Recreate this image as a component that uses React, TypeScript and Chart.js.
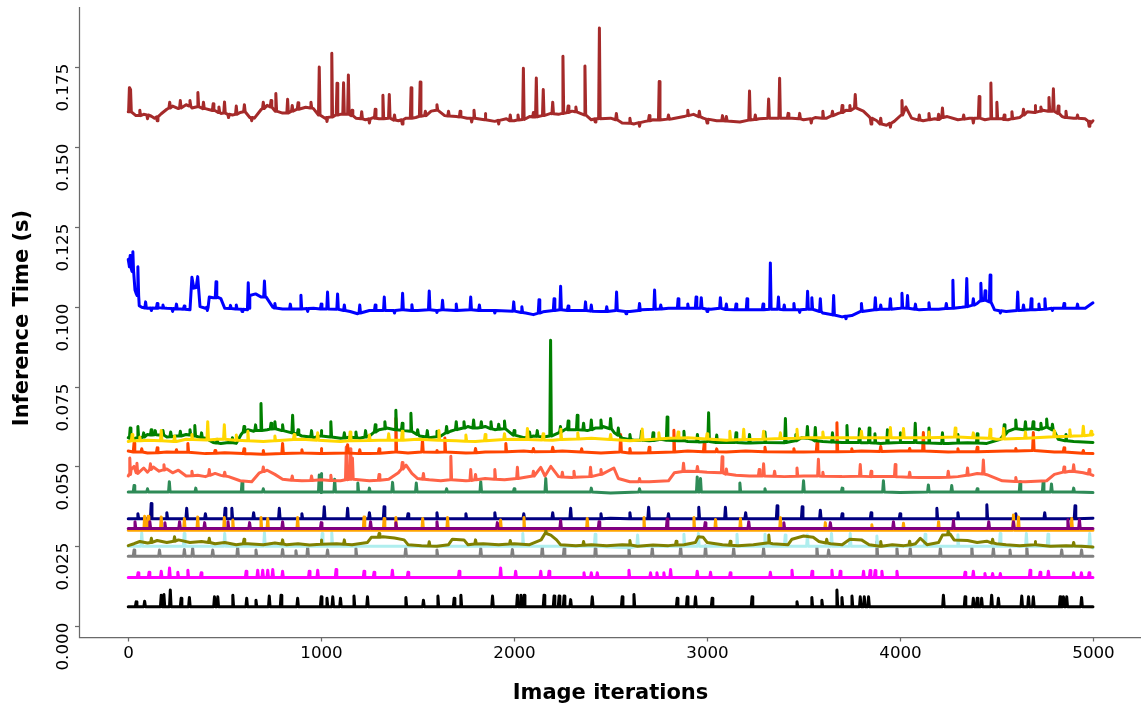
import React, { useEffect, useRef } from "react";
import { Chart, registerables } from "chart.js";

Chart.register(...registerables);

// ---------- axis content ----------
const xTicks = [0, 1000, 2000, 3000, 4000, 5000];
const xTickLabels = ["0", "1000", "2000", "3000", "4000", "5000"];
const yTicks = [0, 0.025, 0.05, 0.075, 0.1, 0.125, 0.15, 0.175];
const yTickLabels = ["0.000", "0.025", "0.050", "0.075", "0.100", "0.125", "0.150", "0.175"];
const xTitle = "Image iterations";
const yTitle = "Inference Time (s)";

// ---------- series: baseline breakpoints [iteration, seconds] and peaks/dips [iteration, value, foot] ----------
const brownBase: [number, number][] = [[0,0.1610],[40,0.1598],[80,0.1602],[120,0.1596],[136,0.1590],[171,0.1604],[200,0.1618],[230,0.1628],[260,0.1620],[300,0.1632],[330,0.1622],[400,0.1620],[447,0.1615],[480,0.1605],[540,0.1600],[580,0.1608],[630,0.1592],[654,0.1590],[690,0.1618],[720,0.1630],[800,0.1606],[878,0.1618],[920,0.1624],[960,0.1620],[1020,0.1590],[1070,0.1598],[1100,0.1602],[1180,0.1590],[1230,0.1585],[1270,0.1592],[1300,0.1588],[1400,0.1582],[1440,0.1590],[1490,0.1592],[1570,0.1612],[1600,0.1620],[1640,0.1598],[1700,0.1595],[1757,0.1590],[1850,0.1585],[1900,0.1580],[1960,0.1588],[2000,0.1582],[2080,0.1595],[2130,0.1596],[2190,0.1605],[2230,0.1602],[2300,0.1612],[2340,0.1606],[2400,0.1585],[2500,0.1590],[2560,0.1575],[2620,0.1572],[2680,0.1580],[2720,0.1585],[2820,0.1588],[2880,0.1595],[2930,0.1602],[2980,0.1590],[3050,0.1582],[3120,0.1580],[3170,0.1578],[3270,0.1588],[3350,0.1590],[3440,0.1590],[3500,0.1585],[3560,0.1592],[3620,0.1590],[3680,0.1605],[3720,0.1615],[3810,0.1612],[3840,0.1595],[3880,0.1582],[3930,0.1568],[3970,0.1580],[4030,0.1625],[4060,0.1590],[4120,0.1582],[4180,0.1588],[4245,0.1595],[4300,0.1585],[4360,0.1590],[4440,0.1585],[4530,0.1588],[4560,0.1585],[4620,0.1592],[4660,0.1610],[4700,0.1608],[4740,0.1615],[4840,0.1595],[4900,0.1590],[4960,0.1588],[4990,0.1575],[5000,0.1582]];
const brownPeaks: [number, number, number?][] = [[6,0.1685,0.1612],[12,0.1680,0.1610],[60,0.1615,0.1598],[100,0.1588,0.1600],[150,0.1582,0.1594],[215,0.1640,0.1622],[270,0.1645,0.1622],[320,0.1645,0.1628],[361,0.1670,0.1626],[390,0.1640,0.1620],[440,0.1635,0.1614],[470,0.1625,0.1608],[499,0.1641,0.1606],[520,0.1592,0.1602],[560,0.1628,0.1602],[602,0.1632,0.1610],[640,0.1582,0.1592],[700,0.1640,0.1620],[740,0.1645,0.1625],[765,0.1667,0.1612],[826,0.1649,0.1606],[850,0.1630,0.1612],[880,0.1638,0.1618],[947,0.1640,0.1622],[990,0.1750,0.1600],[1030,0.1580,0.1592],[1055,0.1793,0.1594],[1082,0.1699,0.1600],[1116,0.1701,0.1602],[1141,0.1725,0.1602],[1160,0.1615,0.1598],[1210,0.1610,0.1588],[1250,0.1575,0.1588],[1280,0.1618,0.1590],[1320,0.1662,0.1588],[1353,0.1664,0.1590],[1380,0.1600,0.1584],[1420,0.1572,0.1585],[1466,0.1685,0.1590],[1513,0.1703,0.1596],[1540,0.1612,0.1598],[1600,0.1632,0.1615],[1660,0.1612,0.1597],[1720,0.1612,0.1594],[1780,0.1578,0.1590],[1792,0.1615,0.1590],[1850,0.1605,0.1585],[1920,0.1572,0.1583],[1980,0.1600,0.1582],[2020,0.1600,0.1584],[2048,0.1746,0.1586],[2100,0.1608,0.1594],[2115,0.1716,0.1594],[2151,0.1680,0.1598],[2200,0.1640,0.1604],[2253,0.1784,0.1605],[2280,0.1628,0.1608],[2320,0.1625,0.1610],[2367,0.1753,0.1600],[2420,0.1578,0.1588],[2442,0.1872,0.1588],[2530,0.1605,0.1585],[2600,0.1590,0.1574],[2650,0.1565,0.1576],[2700,0.1598,0.1582],[2752,0.1705,0.1584],[2800,0.1600,0.1587],[2900,0.1615,0.1598],[2960,0.1612,0.1595],[3000,0.1575,0.1587],[3080,0.1598,0.1582],[3100,0.1595,0.1581],[3220,0.1675,0.1584],[3250,0.1600,0.1586],[3319,0.1650,0.1590],[3376,0.1715,0.1590],[3420,0.1605,0.1590],[3480,0.1605,0.1588],[3540,0.1575,0.1588],[3600,0.1612,0.1590],[3650,0.1612,0.1598],[3700,0.1630,0.1608],[3740,0.1630,0.1614],[3768,0.1664,0.1622],[3850,0.1572,0.1590],[3900,0.1590,0.1572],[3950,0.1562,0.1574],[4010,0.1645,0.1600],[4100,0.1600,0.1584],[4150,0.1605,0.1585],[4200,0.1602,0.1586],[4220,0.1622,0.1592],[4330,0.1600,0.1587],[4380,0.1575,0.1590],[4410,0.1658,0.1590],[4471,0.1700,0.1588],[4502,0.1640,0.1588],[4540,0.1600,0.1586],[4580,0.1610,0.1588],[4640,0.1618,0.1600],[4700,0.1630,0.1608],[4730,0.1625,0.1612],[4772,0.1655,0.1612],[4795,0.1682,0.1612],[4820,0.1628,0.1605],[4860,0.1612,0.1592],[4920,0.1600,0.1590],[4980,0.1565,0.1580]];

const blueBase: [number, number][] = [[0,0.1148],[5,0.1130],[15,0.1120],[28,0.1105],[35,0.1052],[42,0.1040],[57,0.1003],[70,0.0998],[100,0.0995],[160,0.0997],[200,0.0995],[270,0.0993],[320,0.0990],[330,0.1092],[340,0.1058],[352,0.1060],[360,0.1094],[372,0.1000],[400,0.0995],[420,0.1030],[440,0.1028],[462,0.1030],[480,0.1025],[500,0.0995],[560,0.0993],[618,0.0990],[630,0.1035],[660,0.1040],[690,0.1030],[715,0.1030],[750,0.0998],[800,0.0993],[960,0.0995],[1150,0.0985],[1189,0.0978],[1250,0.0988],[1500,0.0988],[1700,0.0988],[1850,0.0988],[2060,0.0980],[2100,0.0975],[2150,0.0984],[2300,0.0988],[2450,0.0985],[2600,0.0985],[2660,0.0990],[2800,0.0995],[3020,0.0992],[3140,0.0990],[3260,0.0990],[3450,0.0990],[3600,0.0980],[3650,0.0975],[3700,0.0968],[3750,0.0972],[3800,0.0988],[4000,0.0995],[4100,0.0990],[4200,0.0992],[4320,0.0998],[4400,0.1010],[4440,0.1020],[4490,0.0990],[4550,0.0985],[4700,0.0990],[4820,0.0995],[4960,0.0995],[5000,0.1012]];
const bluePeaks: [number, number, number?][] = [[10,0.1160,0.1125],[24,0.1172,0.1110],[50,0.1125,0.1035],[90,0.1015,0.0996],[120,0.0988,0.0996],[150,0.1010,0.0995],[180,0.1005,0.0996],[230,0.0985,0.0994],[250,0.1008,0.0993],[290,0.1002,0.0992],[410,0.0988,0.0998],[455,0.1078,0.1028],[530,0.1004,0.0994],[560,0.1005,0.0993],[590,0.0985,0.0992],[622,0.1075,0.0995],[706,0.1080,0.1030],[760,0.1010,0.0996],[840,0.1008,0.0993],[895,0.1036,0.0993],[930,0.0985,0.0994],[1000,0.1008,0.0993],[1033,0.1046,0.0993],[1085,0.1040,0.0992],[1120,0.1005,0.0988],[1200,0.1005,0.0980],[1280,0.1005,0.0988],[1327,0.1030,0.0988],[1380,0.0980,0.0988],[1422,0.1042,0.0990],[1470,0.1006,0.0988],[1560,0.1049,0.0990],[1600,0.0982,0.0988],[1629,0.1020,0.0990],[1700,0.1008,0.0988],[1775,0.1030,0.0990],[1820,0.1005,0.0988],[1900,0.0980,0.0988],[1998,0.1015,0.0986],[2040,0.1000,0.0982],[2129,0.1022,0.0980],[2207,0.1025,0.0988],[2241,0.1064,0.0990],[2280,0.1002,0.0988],[2370,0.1015,0.0988],[2400,0.1005,0.0986],[2480,0.1000,0.0985],[2531,0.1046,0.0988],[2580,0.0978,0.0985],[2650,0.1010,0.0988],[2728,0.1052,0.0992],[2760,0.1005,0.0993],[2850,0.1025,0.0995],[2900,0.1008,0.0995],[2943,0.1030,0.0995],[2970,0.1028,0.0995],[3000,0.0985,0.0993],[3069,0.1028,0.0995],[3100,0.1008,0.0991],[3150,0.1008,0.0990],[3207,0.1025,0.0990],[3290,0.1008,0.0990],[3328,0.1137,0.0992],[3370,0.1030,0.0992],[3400,0.1005,0.0990],[3450,0.1010,0.0990],[3480,0.0982,0.0990],[3521,0.1048,0.0992],[3543,0.1028,0.0992],[3587,0.1025,0.0985],[3656,0.1035,0.0974],[3720,0.0962,0.0970],[3800,0.1010,0.0985],[3872,0.1028,0.0990],[3900,0.1005,0.0992],[3950,0.1025,0.0992],[4010,0.1042,0.0996],[4039,0.1035,0.0995],[4080,0.1008,0.0992],[4150,0.1012,0.0992],[4240,0.1010,0.0994],[4274,0.1083,0.0995],[4346,0.1088,0.1000],[4380,0.1025,0.1005],[4419,0.1073,0.1018],[4441,0.1050,0.1020],[4467,0.1099,0.1015],[4520,0.0980,0.0987],[4610,0.1046,0.0988],[4640,0.1005,0.0989],[4680,0.1025,0.0990],[4720,0.1008,0.0991],[4751,0.1025,0.0992],[4790,0.0988,0.0995],[4850,0.1010,0.0995],[4920,0.1008,0.0995]];

const greenBase: [number, number][] = [[0,0.0590],[20,0.0585],[60,0.0588],[100,0.0600],[160,0.0598],[200,0.0592],[250,0.0595],[300,0.0600],[400,0.0588],[440,0.0575],[480,0.0572],[520,0.0575],[560,0.0572],[585,0.0600],[620,0.0615],[650,0.0610],[720,0.0615],[760,0.0620],[800,0.0612],[900,0.0595],[960,0.0590],[1000,0.0595],[1100,0.0588],[1150,0.0592],[1200,0.0588],[1250,0.0595],[1300,0.0615],[1340,0.0620],[1430,0.0612],[1510,0.0595],[1560,0.0590],[1620,0.0595],[1670,0.0610],[1720,0.0618],[1760,0.0625],[1810,0.0620],[1850,0.0625],[1900,0.0615],[1950,0.0618],[1990,0.0600],[2050,0.0590],[2100,0.0595],[2150,0.0592],[2230,0.0605],[2270,0.0618],[2380,0.0612],[2420,0.0620],[2460,0.0625],[2520,0.0605],[2560,0.0588],[2620,0.0582],[2700,0.0580],[2760,0.0585],[2850,0.0580],[2900,0.0578],[2960,0.0576],[3100,0.0575],[3200,0.0573],[3300,0.0575],[3400,0.0574],[3490,0.0590],[3545,0.0585],[3600,0.0578],[3700,0.0575],[3800,0.0574],[3900,0.0572],[4000,0.0575],[4150,0.0573],[4250,0.0572],[4350,0.0574],[4450,0.0572],[4520,0.0585],[4560,0.0610],[4600,0.0620],[4640,0.0615],[4720,0.0615],[4760,0.0625],[4800,0.0610],[4820,0.0585],[4900,0.0578],[5000,0.0575]];
const greenPeaks: [number, number, number?][] = [[10,0.0620,0.0588],[50,0.0625,0.0590],[80,0.0605,0.0592],[119,0.0615,0.0598],[140,0.0612,0.0599],[180,0.0612,0.0598],[220,0.0608,0.0593],[270,0.0610,0.0595],[320,0.0615,0.0598],[345,0.0628,0.0595],[380,0.0605,0.0590],[460,0.0585,0.0573],[540,0.0590,0.0574],[600,0.0625,0.0608],[660,0.0630,0.0612],[688,0.0697,0.0612],[740,0.0635,0.0617],[760,0.0640,0.0618],[800,0.0630,0.0612],[852,0.0660,0.0605],[880,0.0615,0.0600],[950,0.0612,0.0592],[1000,0.0612,0.0595],[1050,0.0640,0.0592],[1120,0.0605,0.0589],[1180,0.0608,0.0590],[1230,0.0612,0.0592],[1280,0.0630,0.0608],[1330,0.0640,0.0618],[1387,0.0676,0.0615],[1420,0.0635,0.0613],[1465,0.0666,0.0610],[1500,0.0615,0.0600],[1550,0.0612,0.0592],[1600,0.0610,0.0593],[1650,0.0625,0.0605],[1700,0.0640,0.0615],[1740,0.0640,0.0620],[1790,0.0645,0.0620],[1830,0.0640,0.0622],[1880,0.0640,0.0618],[1920,0.0632,0.0616],[1950,0.0642,0.0618],[2000,0.0612,0.0598],[2080,0.0608,0.0592],[2120,0.0612,0.0594],[2189,0.0895,0.0595],[2240,0.0625,0.0608],[2280,0.0642,0.0615],[2327,0.0660,0.0615],[2360,0.0635,0.0614],[2400,0.0645,0.0615],[2450,0.0645,0.0620],[2500,0.0650,0.0618],[2540,0.0620,0.0598],[2600,0.0600,0.0584],[2660,0.0610,0.0582],[2720,0.0605,0.0581],[2793,0.0655,0.0582],[2880,0.0610,0.0580],[2950,0.0600,0.0577],[3008,0.0668,0.0578],[3050,0.0598,0.0575],[3150,0.0605,0.0575],[3220,0.0600,0.0573],[3300,0.0608,0.0575],[3406,0.0650,0.0575],[3460,0.0600,0.0580],[3520,0.0625,0.0588],[3561,0.0622,0.0580],[3650,0.0605,0.0576],[3725,0.0628,0.0575],[3790,0.0618,0.0575],[3840,0.0620,0.0574],[3870,0.0602,0.0573],[3935,0.0615,0.0573],[4000,0.0605,0.0575],[4079,0.0635,0.0575],[4150,0.0620,0.0573],[4220,0.0605,0.0572],[4300,0.0600,0.0573],[4400,0.0602,0.0573],[4540,0.0630,0.0598],[4600,0.0645,0.0618],[4650,0.0640,0.0616],[4690,0.0640,0.0618],[4730,0.0635,0.0617],[4760,0.0648,0.0622],[4790,0.0632,0.0615],[4860,0.0600,0.0580]];

const goldBase: [number, number][] = [[0,0.0578],[100,0.0582],[250,0.0578],[300,0.0585],[460,0.0585],[560,0.0582],[700,0.0578],[900,0.0585],[1100,0.0578],[1300,0.0582],[1500,0.0585],[1700,0.0580],[1800,0.0578],[2000,0.0585],[2200,0.0582],[2400,0.0588],[2600,0.0580],[2800,0.0588],[2900,0.0590],[3100,0.0582],[3300,0.0585],[3500,0.0590],[3700,0.0590],[3900,0.0590],[4100,0.0590],[4300,0.0592],[4500,0.0585],[4700,0.0590],[4900,0.0595],[5000,0.0600]];
const goldPeaks: [number, number, number?][] = [[20,0.0600,0.0580],[60,0.0592,0.0580],[171,0.0612,0.0580],[240,0.0595,0.0578],[330,0.0600,0.0584],[412,0.0640,0.0583],[498,0.0630,0.0585],[560,0.0598,0.0582],[620,0.0610,0.0580],[760,0.0595,0.0580],[860,0.0600,0.0584],[982,0.0605,0.0582],[1150,0.0608,0.0580],[1250,0.0598,0.0581],[1350,0.0602,0.0582],[1420,0.0610,0.0582],[1610,0.0612,0.0582],[1750,0.0598,0.0579],[1850,0.0600,0.0580],[1950,0.0602,0.0584],[2069,0.0619,0.0584],[2150,0.0602,0.0583],[2242,0.0616,0.0584],[2330,0.0605,0.0586],[2500,0.0600,0.0584],[2664,0.0617,0.0583],[2750,0.0605,0.0586],[2850,0.0608,0.0589],[3000,0.0602,0.0586],[3118,0.0610,0.0583],[3190,0.0616,0.0584],[3293,0.0610,0.0585],[3380,0.0605,0.0587],[3466,0.0616,0.0588],[3600,0.0608,0.0590],[3800,0.0610,0.0590],[3950,0.0622,0.0590],[4018,0.0619,0.0590],[4150,0.0608,0.0590],[4286,0.0620,0.0592],[4380,0.0605,0.0590],[4467,0.0616,0.0588],[4537,0.0619,0.0586],[4650,0.0608,0.0588],[4800,0.0612,0.0593],[4880,0.0615,0.0594],[4950,0.0626,0.0596],[4990,0.0610,0.0598]];

const orangeredBase: [number, number][] = [[0,0.0548],[100,0.0542],[200,0.0545],[400,0.0540],[500,0.0543],[700,0.0538],[900,0.0542],[1000,0.0540],[1250,0.0540],[1450,0.0542],[1750,0.0542],[1850,0.0545],[2050,0.0548],[2250,0.0548],[2450,0.0542],[2650,0.0542],[2900,0.0548],[3100,0.0545],[3200,0.0548],[3500,0.0545],[3800,0.0548],[4000,0.0548],[4250,0.0545],[4550,0.0548],[4800,0.0545],[5000,0.0540]];
const orangeredPeaks: [number, number, number?][] = [[30,0.0573,0.0545],[70,0.0555,0.0545],[150,0.0558,0.0543],[250,0.0552,0.0544],[309,0.0572,0.0544],[450,0.0550,0.0541],[600,0.0555,0.0540],[700,0.0550,0.0538],[800,0.0572,0.0540],[900,0.0552,0.0542],[1000,0.0556,0.0540],[1137,0.0568,0.0542],[1200,0.0552,0.0540],[1300,0.0555,0.0541],[1387,0.0651,0.0545],[1525,0.0585,0.0545],[1600,0.0550,0.0544],[1641,0.0589,0.0545],[1800,0.0556,0.0543],[1957,0.0572,0.0546],[2100,0.0556,0.0546],[2200,0.0560,0.0547],[2350,0.0555,0.0545],[2552,0.0600,0.0545],[2600,0.0556,0.0542],[2700,0.0560,0.0543],[2828,0.0613,0.0545],[2985,0.0572,0.0546],[3050,0.0555,0.0546],[3300,0.0560,0.0546],[3450,0.0555,0.0545],[3570,0.0575,0.0546],[3673,0.0637,0.0546],[3750,0.0555,0.0547],[3900,0.0562,0.0547],[4050,0.0556,0.0548],[4121,0.0606,0.0548],[4300,0.0555,0.0546],[4400,0.0560,0.0546],[4600,0.0556,0.0548],[4691,0.0606,0.0550],[4850,0.0558,0.0545],[4950,0.0550,0.0541]];

const tomatoBase: [number, number][] = [[0,0.0470],[15,0.0490],[30,0.0500],[50,0.0478],[80,0.0495],[100,0.0482],[130,0.0498],[160,0.0485],[200,0.0492],[230,0.0480],[260,0.0488],[300,0.0470],[360,0.0472],[400,0.0468],[450,0.0478],[480,0.0472],[520,0.0468],[580,0.0455],[640,0.0452],[680,0.0480],[720,0.0488],[760,0.0475],[800,0.0460],[900,0.0455],[1000,0.0458],[1100,0.0455],[1250,0.0455],[1350,0.0460],[1400,0.0480],[1440,0.0504],[1470,0.0478],[1500,0.0462],[1560,0.0458],[1620,0.0455],[1750,0.0455],[1850,0.0462],[1950,0.0458],[2050,0.0465],[2138,0.0497],[2160,0.0470],[2190,0.0500],[2230,0.0468],[2300,0.0465],[2400,0.0470],[2517,0.0495],[2540,0.0462],[2600,0.0452],[2700,0.0452],[2800,0.0455],[2830,0.0480],[2900,0.0485],[3000,0.0482],[3150,0.0472],[3220,0.0470],[3400,0.0468],[3500,0.0470],[3700,0.0468],[3900,0.0468],[4100,0.0465],[4200,0.0465],[4300,0.0468],[4400,0.0478],[4450,0.0474],[4530,0.0455],[4650,0.0452],[4760,0.0455],[4800,0.0475],[4880,0.0485],[4950,0.0480],[5000,0.0472]];
const tomatoPeaks: [number, number, number?][] = [[8,0.0526,0.0475],[45,0.0510,0.0480],[115,0.0508,0.0490],[185,0.0505,0.0489],[330,0.0485,0.0471],[420,0.0490,0.0472],[500,0.0482,0.0470],[700,0.0498,0.0484],[850,0.0470,0.0457],[950,0.0470,0.0456],[1050,0.0472,0.0456],[1130,0.0561,0.0458],[1150,0.0555,0.0460],[1162,0.0526,0.0460],[1300,0.0475,0.0457],[1420,0.0512,0.0492],[1530,0.0478,0.0460],[1672,0.0532,0.0458],[1775,0.0490,0.0456],[1800,0.0475,0.0458],[1900,0.0490,0.0460],[2017,0.0497,0.0462],[2100,0.0485,0.0470],[2250,0.0482,0.0467],[2310,0.0485,0.0466],[2396,0.0497,0.0468],[2450,0.0490,0.0475],[2650,0.0462,0.0452],[2878,0.0510,0.0484],[2950,0.0500,0.0484],[3078,0.0530,0.0480],[3100,0.0492,0.0476],[3270,0.0490,0.0470],[3293,0.0508,0.0470],[3350,0.0485,0.0469],[3466,0.0495,0.0469],[3577,0.0522,0.0470],[3600,0.0482,0.0469],[3794,0.0506,0.0469],[3850,0.0485,0.0468],[3975,0.0506,0.0468],[4050,0.0482,0.0466],[4250,0.0485,0.0466],[4350,0.0495,0.0472],[4432,0.0520,0.0476],[4600,0.0465,0.0453],[4850,0.0498,0.0482],[4900,0.0505,0.0484],[4980,0.0490,0.0476]];

const seagreenBase: [number, number][] = [[0,0.0420],[1000,0.0418],[2500,0.0417],[4000,0.0418],[5000,0.0418]];
const seagreenPeaks: [number, number, number?][] = [[30,0.0440],[100,0.0430],[213,0.0452],[350,0.0432],[590,0.0452],[700,0.0430],[990,0.0473],[1000,0.0478],[1070,0.0460],[1190,0.0448],[1250,0.0432],[1370,0.0450],[1493,0.0448],[1650,0.0430],[1827,0.0452],[2000,0.0430],[2164,0.0462],[2400,0.0432],[2650,0.0430],[2949,0.0467],[2966,0.0462],[3170,0.0448],[3300,0.0430],[3500,0.0455],[3700,0.0432],[3914,0.0455],[4147,0.0442],[4268,0.0440],[4400,0.0430],[4622,0.0452],[4742,0.0453],[4785,0.0445],[4900,0.0432]];

const navyBase: [number, number][] = [[0,0.0336],[2500,0.0338],[5000,0.0338]];
const navyPeaks: [number, number, number?][] = [[50,0.0352],[119,0.0384],[200,0.0355],[303,0.0369],[400,0.0352],[502,0.0369],[537,0.0369],[650,0.0355],[783,0.0369],[900,0.0352],[1016,0.0374],[1137,0.0369],[1250,0.0355],[1326,0.0374],[1450,0.0352],[1600,0.0355],[1750,0.0352],[1900,0.0355],[2050,0.0352],[2200,0.0355],[2293,0.0369],[2450,0.0352],[2600,0.0355],[2697,0.0372],[2800,0.0352],[2957,0.0372],[3095,0.0372],[3200,0.0355],[3363,0.0377],[3493,0.0374],[3587,0.0363],[3700,0.0352],[3850,0.0355],[4000,0.0352],[4191,0.0369],[4300,0.0355],[4450,0.0380],[4600,0.0352],[4750,0.0355],[4907,0.0377]];

const purpleBase: [number, number][] = [[0,0.0306],[5000,0.0306]];
const purplePeaks: [number, number, number?][] = [[35,0.0327],[112,0.0327],[190,0.0324],[266,0.0327],[396,0.0324],[517,0.0327],[629,0.0324],[800,0.0327],[1000,0.0324],[1256,0.0327],[1387,0.0324],[1600,0.0327],[1913,0.0324],[2241,0.0331],[2440,0.0327],[2793,0.0335],[2990,0.0324],[3216,0.0327],[3398,0.0324],[3639,0.0324],[3966,0.0327],[4277,0.0331],[4460,0.0327],[4588,0.0327],[4870,0.0333],[4930,0.0333]];

const orangeBase: [number, number][] = [[0,0.0300],[5000,0.0300]];
const orangePeaks: [number, number, number?][] = [[85,0.0344],[103,0.0344],[171,0.0342],[291,0.0337],[360,0.0342],[498,0.0340],[542,0.0332],[688,0.0340],[723,0.0337],[878,0.0340],[1222,0.0342],[1326,0.0337],[1387,0.0340],[1526,0.0337],[1655,0.0340],[1930,0.0332],[2051,0.0340],[2379,0.0337],[2673,0.0340],[2932,0.0340],[3044,0.0334],[3173,0.0337],[3380,0.0340],[3613,0.0324],[3854,0.0317],[4018,0.0322],[4200,0.0327],[4588,0.0348],[4614,0.0342],[4890,0.0337]];

const oliveBase: [number, number][] = [[0,0.0252],[30,0.0258],[60,0.0265],[100,0.0260],[150,0.0268],[200,0.0262],[260,0.0270],[320,0.0262],[380,0.0265],[450,0.0258],[500,0.0262],[560,0.0255],[620,0.0258],[700,0.0255],[760,0.0260],[820,0.0255],[880,0.0258],[940,0.0254],[1000,0.0256],[1080,0.0258],[1160,0.0255],[1240,0.0262],[1260,0.0278],[1320,0.0280],[1380,0.0276],[1430,0.0270],[1450,0.0255],[1520,0.0252],[1600,0.0250],[1660,0.0255],[1680,0.0272],[1740,0.0270],[1760,0.0255],[1840,0.0258],[1920,0.0255],[2000,0.0258],[2080,0.0255],[2140,0.0270],[2164,0.0295],[2190,0.0285],[2220,0.0270],[2240,0.0255],[2320,0.0252],[2400,0.0255],[2480,0.0252],[2560,0.0255],[2640,0.0250],[2720,0.0254],[2800,0.0252],[2880,0.0255],[2940,0.0262],[2955,0.0280],[2980,0.0278],[3000,0.0262],[3080,0.0255],[3160,0.0252],[3240,0.0255],[3310,0.0260],[3320,0.0272],[3340,0.0258],[3420,0.0255],[3440,0.0272],[3500,0.0282],[3550,0.0278],[3580,0.0265],[3640,0.0258],[3700,0.0255],[3740,0.0272],[3800,0.0270],[3840,0.0255],[3900,0.0250],[3960,0.0255],[4020,0.0252],[4080,0.0258],[4105,0.0275],[4140,0.0255],[4200,0.0262],[4220,0.0285],[4260,0.0288],[4280,0.0270],[4350,0.0268],[4400,0.0262],[4450,0.0266],[4500,0.0258],[4550,0.0255],[4620,0.0252],[4700,0.0255],[4780,0.0250],[4860,0.0252],[4940,0.0250],[5000,0.0248]];
const olivePeaks: [number, number, number?][] = [[120,0.0275,0.0262],[240,0.0280,0.0266],[420,0.0275,0.0262],[600,0.0272,0.0258],[800,0.0270,0.0257],[1000,0.0270,0.0256],[1120,0.0270,0.0256],[1300,0.0290,0.0278],[1560,0.0264,0.0251],[1800,0.0270,0.0257],[1980,0.0268,0.0257],[2164,0.0300,0.0290],[2360,0.0265,0.0253],[2600,0.0268,0.0254],[2840,0.0266,0.0254],[3120,0.0266,0.0253],[3320,0.0285,0.0260],[3620,0.0272,0.0260],[3900,0.0265,0.0250],[4050,0.0266,0.0254],[4250,0.0298,0.0286],[4480,0.0272,0.0260],[4700,0.0265,0.0255],[4900,0.0262,0.0251]];

const turquoiseBase: [number, number][] = [[0,0.0250],[1000,0.0250],[2500,0.0248],[2600,0.0245],[5000,0.0245]];
const turquoisePeaks: [number, number, number?][] = [[70,0.0292],[290,0.0290],[500,0.0290],[706,0.0292],[1005,0.0290],[1055,0.0292],[2045,0.0290],[2420,0.0288],[2640,0.0285],[2880,0.0288],[2955,0.0290],[3155,0.0288],[3300,0.0288],[3405,0.0285],[3520,0.0285],[3645,0.0290],[3742,0.0290],[3880,0.0282],[4130,0.0288],[4300,0.0286],[4519,0.0290],[4655,0.0290],[4767,0.0288],[4983,0.0290]];

const grayBase: [number, number][] = [[0,0.0219],[5000,0.0219]];
const grayPeaks: [number, number, number?][] = [[30,0.0238],[162,0.0238],[291,0.0240],[334,0.0243],[438,0.0238],[567,0.0249],[662,0.0238],[800,0.0240],[869,0.0236],[930,0.0249],[1033,0.0238],[1180,0.0243],[1438,0.0243],[1600,0.0238],[1827,0.0243],[1991,0.0240],[2146,0.0249],[2259,0.0243],[2422,0.0261],[2595,0.0249],[2716,0.0243],[2863,0.0249],[2992,0.0251],[3138,0.0243],[3293,0.0243],[3569,0.0249],[3630,0.0238],[3880,0.0264],[3984,0.0243],[4053,0.0243],[4209,0.0243],[4372,0.0249],[4484,0.0243],[4570,0.0238],[4657,0.0249],[4838,0.0238],[4941,0.0238]];

const magentaBase: [number, number][] = [[0,0.0152],[5000,0.0152]];
const magentaPeaks: [number, number, number?][] = [[51,0.0167],[108,0.0169],[171,0.0172],[214,0.0182],[257,0.0169],[309,0.0175],[378,0.0167],[611,0.0172],[671,0.0175],[697,0.0175],[723,0.0175],[749,0.0177],[800,0.0172],[938,0.0172],[982,0.0175],[1077,0.0177],[1222,0.0172],[1274,0.0169],[1369,0.0175],[1450,0.0169],[1715,0.0172],[1930,0.0182],[2008,0.0172],[2138,0.0172],[2181,0.0172],[2362,0.0167],[2400,0.0167],[2431,0.0167],[2595,0.0175],[2707,0.0167],[2740,0.0167],[2776,0.0167],[2811,0.0177],[2949,0.0172],[3018,0.0169],[3120,0.0167],[3328,0.0169],[3440,0.0175],[3544,0.0172],[3647,0.0175],[3690,0.0172],[3811,0.0172],[3845,0.0174],[3871,0.0174],[3906,0.0172],[3984,0.0172],[4337,0.0169],[4380,0.0172],[4440,0.0165],[4480,0.0165],[4520,0.0165],[4674,0.0175],[4726,0.0169],[4769,0.0172],[4900,0.0167],[4940,0.0167],[4980,0.0167]];

const blackBase: [number, number][] = [[0,0.0061],[5000,0.0061]];
const blackPeaks: [number, number, number?][] = [[41,0.0076],[85,0.0078],[171,0.0097],[185,0.0099],[218,0.0113],[274,0.0087],[317,0.0090],[447,0.0092],[464,0.0092],[542,0.0097],[614,0.0087],[662,0.0081],[731,0.0094],[792,0.0097],[878,0.0087],[1000,0.0092],[1030,0.0087],[1060,0.0092],[1100,0.0087],[1170,0.0094],[1240,0.0092],[1439,0.0090],[1530,0.0081],[1605,0.0094],[1689,0.0087],[1724,0.0097],[1888,0.0094],[2017,0.0097],[2035,0.0097],[2052,0.0097],[2155,0.0097],[2207,0.0094],[2233,0.0094],[2259,0.0094],[2293,0.0083],[2405,0.0092],[2560,0.0092],[2621,0.0099],[2845,0.0087],[2897,0.0092],[2940,0.0092],[3026,0.0087],[3233,0.0092],[3466,0.0076],[3543,0.0090],[3595,0.0081],[3673,0.0113],[3699,0.0090],[3751,0.0094],[3794,0.0092],[3815,0.0092],[3837,0.0092],[4225,0.0097],[4337,0.0092],[4380,0.0087],[4400,0.0087],[4423,0.0087],[4475,0.0097],[4510,0.0087],[4631,0.0094],[4666,0.0092],[4691,0.0092],[4830,0.0092],[4847,0.0092],[4864,0.0092],[4941,0.0090]];

// ---------- styling ----------
const SPINE = "#6a6a6a";
const FONT = "'DejaVu Sans', sans-serif";

function buildSeries(base: [number, number][], peaks: [number, number, number?][]) {
  const level = base[0][1];
  const pts = base.map(([x, y]) => ({ x, y }));
  peaks.forEach(([x, p, f]) => {
    const foot = f === undefined ? level : f;
    pts.push({ x: x - 4, y: foot }, { x, y: p }, { x: x + 4, y: foot });
  });
  return pts.sort((a, b) => a.x - b.x);
}

const axesPlugin = {
  id: "mplAxes",
  afterDraw(chart: any) {
    const { ctx, chartArea: ca, scales } = chart;
    const xs = scales.x;
    const ys = scales.y;
    ctx.save();
    ctx.strokeStyle = SPINE;
    ctx.lineWidth = 1.25;
    ctx.beginPath();
    ctx.moveTo(ca.left - 0.5, ca.top);
    ctx.lineTo(ca.left - 0.5, ca.bottom + 0.5);
    ctx.lineTo(ca.right, ca.bottom + 0.5);
    ctx.stroke();

    ctx.fillStyle = "#000";
    ctx.font = `16.7px ${FONT}`;
    ctx.textAlign = "center";
    ctx.textBaseline = "alphabetic";
    xTicks.forEach((v, i) => {
      const px = Math.round(xs.getPixelForValue(v)) + 0.5;
      ctx.beginPath();
      ctx.moveTo(px, ca.bottom + 0.5);
      ctx.lineTo(px, ca.bottom + 4.5);
      ctx.stroke();
      ctx.fillText(xTickLabels[i], px, ca.bottom + 21);
    });
    yTicks.forEach((v, i) => {
      const py = Math.round(ys.getPixelForValue(v)) + 0.5;
      ctx.beginPath();
      ctx.moveTo(ca.left - 0.5, py);
      ctx.lineTo(ca.left - 5, py);
      ctx.stroke();
      ctx.save();
      ctx.translate(68, py + 44);
      ctx.rotate(-Math.PI / 2);
      ctx.textAlign = "left";
      ctx.textBaseline = "alphabetic";
      ctx.fillText(yTickLabels[i], 0, 0);
      ctx.restore();
    });

    ctx.font = `bold 21px ${FONT}`;
    ctx.textAlign = "center";
    ctx.textBaseline = "alphabetic";
    ctx.fillText(xTitle, (ca.left + ca.right) / 2, 699);
    ctx.save();
    ctx.translate(28, 318);
    ctx.rotate(-Math.PI / 2);
    ctx.fillText(yTitle, 0, 0);
    ctx.restore();
    ctx.restore();
  },
};

export default function App() {
  const ref = useRef<HTMLCanvasElement | null>(null);

  useEffect(() => {
    if (!ref.current) return;
    const series = [
      { c: "#800080", d: buildSeries(purpleBase, purplePeaks) },
      { c: "#ffd700", d: buildSeries(goldBase, goldPeaks) },
      { c: "#808000", d: buildSeries(oliveBase, olivePeaks) },
      { c: "#ffa500", d: buildSeries(orangeBase, orangePeaks) },
      { c: "#000080", d: buildSeries(navyBase, navyPeaks) },
      { c: "#008000", d: buildSeries(greenBase, greenPeaks) },
      { c: "#ff4500", d: buildSeries(orangeredBase, orangeredPeaks) },
      { c: "#ff6347", d: buildSeries(tomatoBase, tomatoPeaks) },
      { c: "#2e8b57", d: buildSeries(seagreenBase, seagreenPeaks) },
      { c: "#afeeee", d: buildSeries(turquoiseBase, turquoisePeaks) },
      { c: "#808080", d: buildSeries(grayBase, grayPeaks) },
      { c: "#ff00ff", d: buildSeries(magentaBase, magentaPeaks) },
      { c: "#000000", d: buildSeries(blackBase, blackPeaks) },
      { c: "#0000ff", d: buildSeries(blueBase, bluePeaks) },
      { c: "#a52a2a", d: buildSeries(brownBase, brownPeaks) },
    ];
    const chart = new Chart(ref.current, {
      type: "line",
      data: {
        datasets: series.map((s, i) => ({
          data: s.d,
          borderColor: s.c,
          backgroundColor: s.c,
          borderWidth: 3,
          borderJoinStyle: "round",
          borderCapStyle: "round",
          pointRadius: 0,
          tension: 0,
          fill: false,
          order: i,
        })),
      },
      options: {
        responsive: false,
        animation: false,
        devicePixelRatio: 1,
        layout: { padding: { left: 80, top: 7, right: 3, bottom: 69 } },
        plugins: { legend: { display: false }, tooltip: { enabled: false } },
        events: [],
        scales: {
          x: { type: "linear", min: -250, max: 5249, display: false },
          y: { type: "linear", min: -0.0034, max: 0.1938, display: false },
        },
      },
      plugins: [axesPlugin],
    });
    return () => chart.destroy();
  }, []);

  return (
    <div style={{ position: "fixed", left: 0, top: 0, width: 1144, height: 706, background: "#fff" }}>
      <canvas ref={ref} width={1144} height={706} style={{ display: "block", width: 1144, height: 706 }} />
    </div>
  );
}
